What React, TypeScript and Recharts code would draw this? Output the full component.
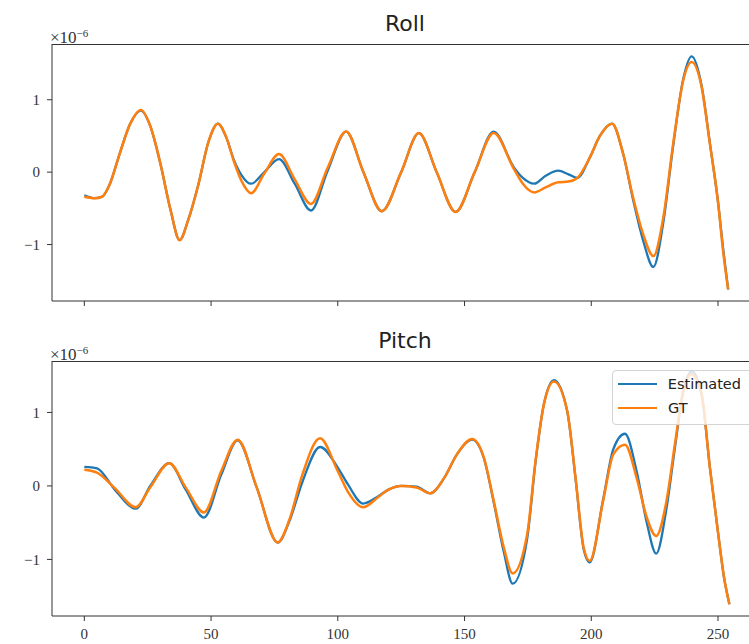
import { LineChart, Line, XAxis, YAxis, Legend } from "recharts";

// sample positions (frame index) and values, in units of 1e-6
const rollT = [
  0, 4, 7, 10, 14, 18, 22.3, 26, 30, 34, 37.6, 41, 45, 49, 52.7, 56, 59, 62, 65.8, 71, 76.8, 83, 89.4, 96,
  103.3, 110, 117.4, 125, 132, 139, 146.5, 154, 161.5, 169.4, 173, 177.5, 182, 187, 191, 194.5, 199.4, 203.4,
  208.2, 212.6, 216.5, 220.5, 224.5, 228.4, 232.3, 236.3, 239.6, 243.5, 246.8, 250.1, 252, 254,
];
const rollEstimated = [
  -0.32, -0.36, -0.34, -0.17, 0.26, 0.66, 0.85, 0.64, 0.12, -0.52, -0.94, -0.66, -0.17, 0.42, 0.67, 0.48, 0.17,
  -0.04, -0.16, 0.0, 0.18, -0.16, -0.53, 0.02, 0.56, 0.01, -0.54, 0.0, 0.54, 0.0, -0.55, 0.0, 0.56, 0.07, -0.08,
  -0.16, -0.05, 0.02, -0.03, -0.08, 0.2, 0.5, 0.67, 0.25, -0.38, -0.95, -1.31, -0.7, 0.36, 1.29, 1.6, 1.2, 0.4,
  -0.44, -1.05, -1.62,
];
const rollGT = [
  -0.34, -0.36, -0.34, -0.17, 0.26, 0.66, 0.86, 0.64, 0.12, -0.52, -0.94, -0.66, -0.17, 0.42, 0.67, 0.48, 0.15,
  -0.12, -0.29, -0.02, 0.25, -0.1, -0.44, 0.06, 0.56, 0.01, -0.54, 0.0, 0.54, 0.0, -0.55, 0.0, 0.54, 0.05, -0.16,
  -0.28, -0.21, -0.14, -0.13, -0.08, 0.2, 0.5, 0.67, 0.25, -0.35, -0.86, -1.16, -0.63, 0.39, 1.27, 1.52, 1.18,
  0.39, -0.44, -1.09, -1.62,
];

const pitchT = [
  0, 5, 12, 20.3, 26, 33.5, 40, 47.2, 54, 60.5, 68, 76.3, 81, 86, 93, 100, 104, 110, 116, 120, 125, 131, 136.5,
  142, 147, 153, 157.6, 161.5, 165.5, 169, 174.7, 178, 181.3, 185.3, 190.5, 193.8, 197, 199.4, 204.7, 208.7,
  213.3, 217.9, 221.9, 225.6, 229.7, 233, 236.3, 239.6, 243.5, 246.8, 250.1, 252.4, 254.5,
];
const pitchEstimated = [
  0.26, 0.24, -0.05, -0.31, 0.0, 0.31, -0.05, -0.43, 0.15, 0.62, -0.02, -0.77, -0.47, 0.05, 0.53, 0.25, 0.02,
  -0.24, -0.14, -0.05, 0.0, -0.01, -0.1, 0.11, 0.43, 0.63, 0.38, -0.22, -0.9, -1.33, -0.72, 0.32, 1.11, 1.44,
  1.02, 0.1, -0.86, -1.04, -0.18, 0.5, 0.71, 0.2, -0.5, -0.92, -0.3, 0.52, 1.29, 1.56, 1.25, 0.25, -0.66, -1.25,
  -1.61,
];
const pitchGT = [
  0.22, 0.18, -0.03, -0.29, -0.02, 0.31, -0.02, -0.36, 0.2, 0.63, -0.02, -0.77, -0.45, 0.15, 0.65, 0.2, -0.08,
  -0.29, -0.15, -0.05, 0.0, -0.02, -0.1, 0.11, 0.43, 0.64, 0.39, -0.2, -0.84, -1.19, -0.66, 0.34, 1.11, 1.42,
  1.02, 0.11, -0.84, -1.02, -0.2, 0.43, 0.56, 0.11, -0.43, -0.68, -0.2, 0.57, 1.29, 1.52, 1.25, 0.25, -0.66,
  -1.25, -1.61,
];

const xTicks = [0, 50, 100, 150, 200, 250];
const yTicks = [-1, 0, 1];

const BLUE = "#1f77b4";
const ORANGE = "#ff7f0e";
const SPINE = "#333";
const serif = "'Liberation Serif', 'DejaVu Serif', serif";
const sans = "'DejaVu Sans', sans-serif";

const toRows = (t: number[], est: number[], gt: number[]) =>
  t.map((x, i) => ({ t: x, est: est[i], gt: gt[i] }));

const fmtY = (v: number) => (v < 0 ? `\u2212${Math.abs(v)}` : `${v}`);

// shared x axis: keep tick marks, drop the labels
const NoLabel = () => <g />;

function LegendBox({ payload }: any) {
  return (
    <div
      style={{
        background: "rgba(255,255,255,0.8)",
        border: "1px solid #d4d4d4",
        borderRadius: 4,
        padding: "1px 30px 4px 5px",
        fontFamily: sans,
        fontSize: 14.5,
        color: "#222",
      }}
    >
      {(payload || []).map((p: any) => (
        <div key={p.value} style={{ display: "flex", alignItems: "center", height: 24 }}>
          <span style={{ width: 39, height: 2, background: p.color, marginRight: 11 }} />
          <span>{p.value}</span>
        </div>
      ))}
    </div>
  );
}

interface PanelProps {
  title: string;
  rows: { t: number; est: number; gt: number }[];
  yDomain: [number, number];
  top: number;
  height: number;
  marginTop: number;
  xAxisHeight: number;
  showXLabels: boolean;
  showLegend?: boolean;
}

function Panel({ title, rows, yDomain, top, height, marginTop, xAxisHeight, showXLabels, showLegend }: PanelProps) {
  return (
    <div style={{ position: "absolute", left: 0, top, width: 749, height, overflow: "hidden" }}>
      <div
        style={{
          position: "absolute",
          left: 305,
          width: 200,
          top: marginTop - 33,
          textAlign: "center",
          fontFamily: sans,
          fontSize: 22,
          lineHeight: "26px",
          color: "#222",
        }}
      >
        {title}
      </div>
      <div
        style={{
          position: "absolute",
          left: 50,
          top: marginTop - 20,
          fontFamily: serif,
          fontSize: 17,
          lineHeight: "18px",
          color: "#333",
        }}
      >
        ×10<sup style={{ fontSize: 11, verticalAlign: 6 }}>{"\u22126"}</sup>
      </div>
      {/* top spine of the axes frame */}
      <div
        style={{
          position: "absolute",
          left: 52,
          top: marginTop,
          width: 720,
          height: 0,
          borderTop: `1px solid ${SPINE}`,
        }}
      />
      <LineChart
        width={770}
        height={height}
        data={rows}
        margin={{ top: marginTop, right: 7, bottom: 0, left: 0 }}
      >
        <XAxis
          dataKey="t"
          type="number"
          domain={[-12.75, 267.75]}
          ticks={xTicks}
          allowDataOverflow
          height={xAxisHeight}
          tickSize={5}
          tickMargin={7}
          stroke={SPINE}
          tick={showXLabels ? { fontFamily: serif, fontSize: 15, fill: "#333" } : <NoLabel />}
        />
        <YAxis
          type="number"
          domain={yDomain}
          ticks={yTicks}
          allowDataOverflow
          width={52}
          tickSize={5}
          tickMargin={7}
          stroke={SPINE}
          tickFormatter={fmtY}
          tick={{ fontFamily: serif, fontSize: 15, fill: "#333" }}
        />
        {showLegend && (
          <Legend
            layout="vertical"
            align="center"
            verticalAlign="middle"
            content={<LegendBox />}
            wrapperStyle={{ left: 612, top: 50, width: 160 }}
          />
        )}
        <Line
          dataKey="est"
          name="Estimated"
          type="monotone"
          stroke={BLUE}
          strokeWidth={2.3}
          dot={false}
          isAnimationActive={false}
        />
        <Line
          dataKey="gt"
          name="GT"
          type="monotone"
          stroke={ORANGE}
          strokeWidth={2.5}
          dot={false}
          isAnimationActive={false}
        />
      </LineChart>
    </div>
  );
}

export default function App() {
  return (
    <div
      style={{
        position: "absolute",
        left: 0,
        top: 0,
        width: 749,
        height: 644,
        overflow: "hidden",
        background: "#fff",
      }}
    >
      <Panel
        title="Roll"
        rows={toRows(rollT, rollEstimated, rollGT)}
        yDomain={[-1.78, 1.77]}
        top={0}
        height={320}
        marginTop={44}
        xAxisHeight={19}
        showXLabels={false}
      />
      <Panel
        title="Pitch"
        rows={toRows(pitchT, pitchEstimated, pitchGT)}
        yDomain={[-1.77, 1.7]}
        top={320}
        height={324}
        marginTop={41}
        xAxisHeight={28}
        showXLabels
        showLegend
      />
    </div>
  );
}
